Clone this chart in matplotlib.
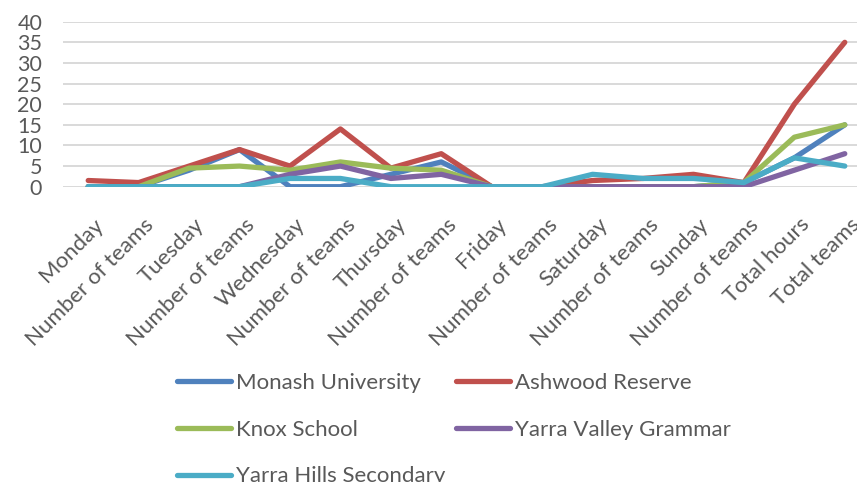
import matplotlib
matplotlib.use("Agg")
import matplotlib.pyplot as plt
from matplotlib.lines import Line2D
from matplotlib.transforms import ScaledTranslation

categories = ["Monday", "Number of teams", "Tuesday", "Number of teams", "Wednesday",
              "Number of teams", "Thursday", "Number of teams", "Friday", "Number of teams",
              "Saturday", "Number of teams", "Sunday", "Number of teams", "Total hours",
              "Total teams"]

monash = [0, 0, 4, 9, 0, 0, 3, 6, 0, 0, 0, 0, 0, 1, 7, 15]
ashwood = [1.5, 1, 5, 9, 5, 14, 4.5, 8, 0, 0, 1.5, 2, 3, 1, 20, 35]
knox = [0, 0, 4.5, 5, 4, 6, 4.5, 4, 0, 0, 0, 0, 0, 1, 12, 15]
yarra_valley = [0, 0, 0, 0, 3, 5, 2, 3, 0, 0, 0, 0, 0, 0, 4, 8]
yarra_hills = [0, 0, 0, 0, 2, 2, 0, 0, 0, 0, 3, 2, 2, 1, 7, 5]

series_names = ["Monash University", "Ashwood Reserve", "Knox School",
                "Yarra Valley Grammar", "Yarra Hills Secondary"]
series_values = [monash, ashwood, knox, yarra_valley, yarra_hills]
colors = ["#4F81BD", "#C0504D", "#9BBB59", "#8064A2", "#4BACC6"]

yticks = [0, 5, 10, 15, 20, 25, 30, 35, 40]

W, H = 857, 482
fig = plt.figure(figsize=(W / 100, H / 100), dpi=100)
font = "Lato"
tick_color = "#595959"

left_px, right_px = 63, 870
top_px, bottom_px = 21.7, 186.7
ax = fig.add_axes([left_px / W, 1 - bottom_px / H, (right_px - left_px) / W,
                   (bottom_px - top_px) / H])

x = list(range(len(categories)))
for vals, c in zip(series_values, colors):
    ax.plot(x, vals, color=c, lw=3.8, solid_capstyle="round",
            solid_joinstyle="round", zorder=3)

ax.set_xlim(-0.5, len(categories) - 0.5)
ax.set_ylim(0, 40)
ax.set_yticks(yticks)
ax.set_yticklabels([str(v) for v in yticks], fontsize=15.5, color=tick_color,
                   family=font)
ax.grid(axis="y", color="#D9D9D9", lw=1.4, zorder=0)
ax.set_axisbelow(True)
for s in ax.spines.values():
    s.set_visible(False)
ax.tick_params(axis="y", length=0, pad=15)
ax.tick_params(axis="x", length=0, pad=20)
ax.set_xticks(x)
ax.set_xticklabels(categories, rotation=45, ha="right", va="top",
                   rotation_mode="anchor", fontsize=16, color=tick_color,
                   family=font)
off = ScaledTranslation(5 / 100, 0, fig.dpi_scale_trans)
for lab in ax.get_xticklabels():
    lab.set_transform(lab.get_transform() + off)

# Legend drawn as two columns, matching the reference layout
def make_handles(idx):
    return [Line2D([], [], color=colors[i], lw=3.8, solid_capstyle="round")
            for i in idx]

col1 = [0, 2, 4]
col2 = [1, 3]
leg_kw = dict(frameon=False, handlelength=2.45, handletextpad=0.2,
              labelspacing=1.2, borderpad=0, borderaxespad=0,
              prop={"family": font, "size": 16}, labelcolor=tick_color)
leg1 = fig.legend(make_handles(col1), [series_names[i] for i in col1],
                  loc="upper left", bbox_to_anchor=(177 / W, 1 - 373 / H),
                  **leg_kw)
leg2 = fig.legend(make_handles(col2), [series_names[i] for i in col2],
                  loc="upper left", bbox_to_anchor=(456 / W, 1 - 373 / H),
                  **leg_kw)

fig.savefig("out.png", dpi=100)
